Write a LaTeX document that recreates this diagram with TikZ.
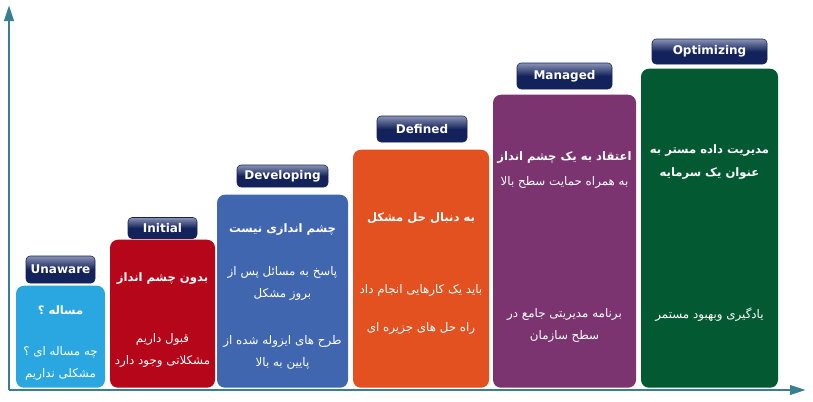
\documentclass[tikz,border=0pt]{standalone}
\usepackage{fontspec}
\setmainfont{DejaVu Sans}
\newfontfamily\farsifont[Script=Arabic]{DejaVu Sans}
\TeXXeTstate=1
\usetikzlibrary{arrows.meta}
\definecolor{axisteal}{HTML}{3A7F8F}
\definecolor{cUnaware}{HTML}{2AA7E1}
\definecolor{cInitial}{HTML}{B5061A}
\definecolor{cDeveloping}{HTML}{4166B0}
\definecolor{cDefined}{HTML}{E2511F}
\definecolor{cManaged}{HTML}{7B3470}
\definecolor{cOptimizing}{HTML}{035A32}
\definecolor{tagnavy}{HTML}{13225A}
\definecolor{taghigh}{HTML}{8A93B5}
\newcommand{\fa}[1]{\beginR#1\endR}
\begin{document}
\begin{tikzpicture}[
        x=0.75pt, y=-0.75pt,
        axis/.style={draw=axisteal, line width=2.2pt, -{Triangle[length=12pt, width=7pt]}},
        stage/.style={rounded corners=6pt, inner sep=0pt, anchor=south},
        tag/.style={rounded corners=3pt, inner sep=0pt, draw=tagnavy, top color=taghigh, bottom color=tagnavy, middle color=tagnavy,
            text=white, font=\bfseries\fontsize{9}{10}\selectfont},
        head/.style={text=white, align=center, font=\farsifont\bfseries\fontsize{8.7}{17.5}\selectfont},
        body/.style={text=white, align=center, font=\farsifont\fontsize{8.9}{16.5}\selectfont},
    ]
        \useasboundingbox (0,0) rectangle (813,401);

        \coordinate (origin) at (9,390);
        \coordinate (ytip) at (9,5);
        \coordinate (xtip) at (806,390);
        \draw[axis] (origin) -- (ytip);
        \draw[axis] (origin) -- (xtip);

        \node[stage, fill=cUnaware, minimum width=66.75pt, minimum height=76.5pt] (unaware) at (60.5,388) {};
        \node[stage, fill=cInitial, minimum width=78.75pt, minimum height=111pt] (initial) at (162.5,388) {};
        \node[stage, fill=cDeveloping, minimum width=98.25pt, minimum height=144.75pt] (developing) at (282.5,388) {};
        \node[stage, fill=cDefined, minimum width=102pt, minimum height=178.5pt] (defined) at (421,388) {};
        \node[stage, fill=cManaged, minimum width=107.25pt, minimum height=219.75pt] (managed) at (564.5,388) {};
        \node[stage, fill=cOptimizing, minimum width=102.75pt, minimum height=239.25pt] (optimizing) at (709.5,388) {};

        \node[tag, minimum width=51.75pt, minimum height=20.25pt] (tUnaware) at (60.5,269.5) {Unaware};
        \node[tag, minimum width=51.75pt, minimum height=15.75pt] (tInitial) at (162.5,228) {Initial};
        \node[tag, minimum width=68.25pt, minimum height=16.5pt] (tDeveloping) at (282.5,176) {Developing};
        \node[tag, minimum width=67.5pt, minimum height=19.5pt] (tDefined) at (422,129) {Defined};
        \node[tag, minimum width=71.25pt, minimum height=19.5pt] (tManaged) at (564.5,76) {Managed};
        \node[tag, minimum width=86.25pt, minimum height=18.75pt] (tOptimizing) at (709.5,51.5) {Optimizing};

        \node[head] (hUnaware) at (60.5,310) {\fa{مساله ؟}};
        \node[body] (bUnaware) at (60.5,363) {\fa{چه مساله ای ؟}\\\fa{مشکلی نداریم}};

        \node[head] (hInitial) at (162.5,278) {\fa{بدون چشم انداز}};
        \node[body] (bInitial) at (162.5,350) {\fa{قبول داریم}\\\fa{مشکلاتی وجود دارد}};

        \node[head] (hDeveloping) at (282.5,230) {\fa{چشم اندازی نیست}};
        \node[body] (bDevelopingA) at (282.5,283) {\fa{پاسخ به مسائل پس از}\\\fa{بروز مشکل}};
        \node[body] (bDevelopingB) at (282.5,352.5) {\fa{طرح های ایزوله شده از}\\\fa{پایین به بالا}};

        \node[head] (hDefined) at (421,218) {\fa{به دنبال حل مشکل}};
        \node[body] (bDefinedA) at (421,290) {\fa{باید  یک کارهایی انجام داد}};
        \node[body] (bDefinedB) at (421,328) {\fa{راه حل های جزیره ای}};

        \node[head] (hManaged) at (564.5,158) {\fa{اعتقاد به یک چشم انداز}};
        \node[body] (sManaged) at (564.5,182) {\fa{به همراه حمایت سطح بالا}};
        \node[body] (bManaged) at (564.5,325) {\fa{برنامه مدیریتی جامع در}\\\fa{سطح سازمان}};

        \node[head] (hOptimizing) at (709.5,162) {\fa{مدیریت داده مستر به}\\\fa{عنوان یک سرمایه}};
        \node[body] (bOptimizing) at (709.5,315) {\fa{یادگیری وبهبود مستمر}};
    \end{tikzpicture}
\end{document}
